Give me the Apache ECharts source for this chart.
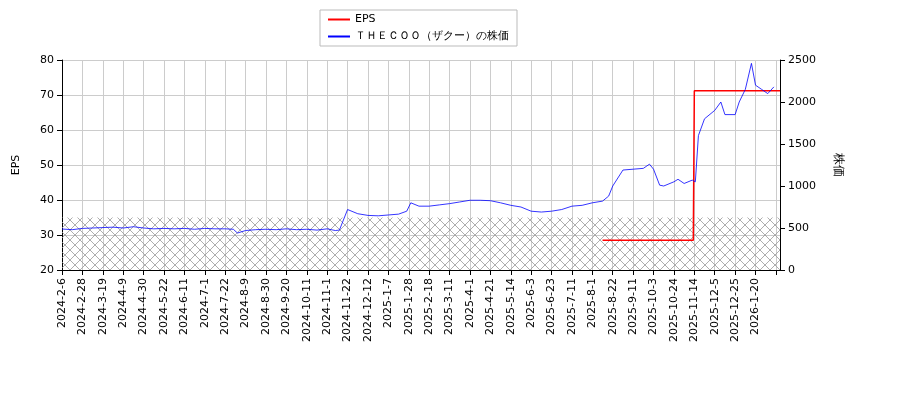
<!DOCTYPE html><html><head><meta charset="utf-8"><script src="https://cdn.jsdelivr.net/npm/echarts@6/dist/echarts.min.js"></script></head><body style="margin:0"><div id="c" style="width:900px;height:400px"></div><script>
const tickLabels=['2024-2-6','2024-2-28','2024-3-19','2024-4-9','2024-4-30','2024-5-22','2024-6-11','2024-7-1','2024-7-22','2024-8-9','2024-8-30','2024-9-20','2024-10-11','2024-11-1','2024-11-22','2024-12-12','2025-1-7','2025-1-28','2025-2-18','2025-3-11','2025-4-1','2025-4-21','2025-5-14','2025-6-3','2025-6-23','2025-7-11','2025-8-1','2025-8-22','2025-9-11','2025-10-3','2025-10-24','2025-11-14','2025-12-5','2025-12-25','2026-1-20'];
const priceIdx=[0,0.5,1,1.5,2,2.5,3,3.5,4,4.5,5,5.5,6,6.5,7,7.5,8,8.4,8.6,9,9.5,10,10.5,11,11.5,12,12.5,13,13.4,13.6,14,14.5,15,15.5,16,16.5,16.9,17.1,17.5,18,18.5,19,19.5,20,20.5,21,21.5,22,22.5,23,23.5,24,24.5,25,25.5,26,26.5,26.8,27,27.5,28,28.5,28.8,29,29.3,29.5,30,30.2,30.5,30.9,31.05,31.2,31.5,32,32.3,32.5,33,33.2,33.5,33.8,34,34.3,34.6,34.9];
const priceVal=[488,480,495,500,505,510,500,515,500,490,495,490,495,485,495,490,490,485,440,470,480,485,480,490,480,485,475,490,470,475,720,670,650,645,655,665,700,800,760,760,775,790,810,830,830,825,800,770,750,700,690,700,720,760,770,800,820,880,1000,1190,1200,1210,1260,1200,1010,1000,1050,1080,1030,1070,1050,1600,1800,1900,2000,1850,1850,2000,2150,2460,2200,2150,2100,2180];
const epsIdx=[26.5,30.95,31.0,35.2];
const epsVal=[28.5,28.5,71.2,71.2];
const cv=document.createElement('canvas');cv.width=10;cv.height=10;const g=cv.getContext('2d');
g.strokeStyle='#999';g.lineWidth=0.8;g.beginPath();g.moveTo(0,0);g.lineTo(10,10);g.moveTo(10,0);g.lineTo(0,10);g.stroke();
const ch=echarts.init(document.getElementById('c'));
const ax={color:'#000',fontSize:11,fontFamily:'DejaVu Sans'};
ch.setOption({animation:false,textStyle:{fontFamily:'DejaVu Sans'},
legend:{left:320,top:10,orient:'vertical',itemWidth:22,itemHeight:2,itemGap:6,backgroundColor:'#fff',borderColor:'#bbb',borderWidth:1,borderRadius:0,padding:[4,8],textStyle:{fontSize:11,color:'#000',fontFamily:'DejaVu Sans'},
 data:[{name:'EPS',icon:'rect'},{name:'ＴＨＥＣＯＯ（ザクー）の株価',icon:'rect'}]},
grid:{left:62,right:120,top:60,bottom:130},
xAxis:{type:'value',min:0,max:35.2,interval:1,axisLine:{lineStyle:{color:'#000'}},axisTick:{lineStyle:{color:'#000'}},splitLine:{lineStyle:{color:'#ccc'}},
 axisLabel:{...ax,rotate:90,showMaxLabel:false,formatter:v=>tickLabels[Math.round(v)]||''}},
yAxis:[{type:'value',min:20,max:80,interval:10,name:'EPS',nameLocation:'middle',nameGap:40,nameTextStyle:ax,axisLine:{show:true,lineStyle:{color:'#000'}},axisTick:{show:true},axisLabel:ax,splitLine:{lineStyle:{color:'#ccc'}}},
{type:'value',min:0,max:2500,interval:500,name:'株価',nameLocation:'middle',nameGap:52,nameRotate:-90,nameTextStyle:{...ax,fontSize:12},axisLine:{show:true,lineStyle:{color:'#000'}},axisTick:{show:true},axisLabel:{...ax,formatter:v=>String(v)},splitLine:{show:false}}],
series:[{name:'EPS',type:'line',yAxisIndex:0,data:epsIdx.map((x,i)=>[x,epsVal[i]]),showSymbol:false,lineStyle:{color:'#f00',width:1.5},itemStyle:{color:'#f00'},z:3,
 markArea:{silent:true,itemStyle:{color:{image:cv,repeat:'repeat'}},data:[[{yAxis:20},{yAxis:35}]]}},
{name:'ＴＨＥＣＯＯ（ザクー）の株価',type:'line',yAxisIndex:1,data:priceIdx.map((x,i)=>[x,priceVal[i]]),showSymbol:false,lineStyle:{color:'#00f',width:0.8},itemStyle:{color:'#00f'}}]});
</script></body></html>
